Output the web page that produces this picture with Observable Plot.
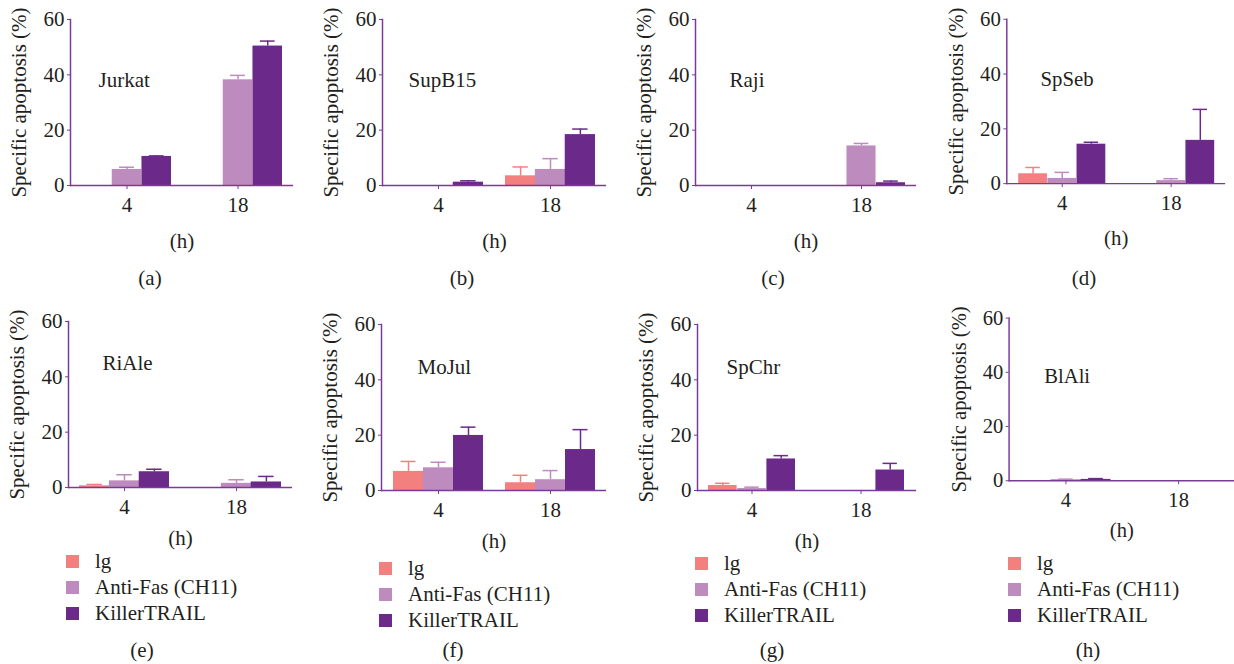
<!DOCTYPE html>
<html><head><meta charset="utf-8">
<script src="https://cdn.jsdelivr.net/npm/d3@7"></script>
<script src="https://cdn.jsdelivr.net/npm/@observablehq/plot@0.6"></script>
<style>
body{margin:0;background:#fff;width:1234px;height:664px;overflow:hidden;position:relative;font-family:'Liberation Serif',serif;color:#231f20;}
svg, svg text, .leg, .leg *{font-family:'Liberation Serif',serif !important;}
.panel{position:absolute;}
.cap{position:absolute;width:60px;margin-left:-30px;text-align:center;font-size:21px;line-height:20px;}
.leg{position:absolute;}
.lgd-swatch svg{margin-right:16px !important;}
.lgd-swatch{height:25px;}
</style></head><body><script>
// ---- data ----
const cells = ["Jurkat","SupB15","Raji","SpSeb","RiAle","MoJul","SpChr","BlAli"];
const panelLabels = ["(a)","(b)","(c)","(d)","(e)","(f)","(g)","(h)"];
const hours = ["4","18"];
const treatments = ["lg","Anti-Fas (CH11)","KillerTRAIL"];
const yTicks = [0,20,40,60];
// values ordered cell by cell, [4 h, 18 h]
const lgMean     = [0,0,    0,3.5,  0,0,    3.6,0,   0.6,0,   6.9,2.8,  1.8,0,   0,0];
const lgErr      = [0,0,    0,3.2,  0,0,    2.3,0,   0.5,0,   3.6,2.7,  0.8,0,   0,0];
const antiMean   = [5.8,38.2, 0,5.8, 0,14.3, 1.9,1.1, 2.4,1.5, 8.2,3.9, 0.7,0, 0.4,0];
const antiErr    = [0.8,1.6,  0,3.9, 0,0.9,  2.2,0.7, 2.2,1.3, 2.0,3.3, 0.5,0, 0.2,0];
const killerMean = [10.5,50.4, 1.2,18.4, 0,1.0, 14.4,15.8, 5.7,2.0, 19.9,14.8, 11.4,7.4, 0.5,0];
const killerErr  = [0.2,1.8,   0.5,2.0,  0,0.6, 0.7,11.3,  0.9,2.0, 3.0,7.2,   1.2,2.4,  0.3,0];

// ---- style / layout ----
const colors = ["#f47f7f","#be8bbe","#6b2a8a"];
const axisColor = "#7b3a98";
const textColor = "#231f20";
const font = "'Liberation Serif', serif";
const layout = [
  {left:0,   top:-1,  range:223, lx:28, ly:61, lo:62},
  {left:312, top:-1,  range:224, lx:26, ly:61, lo:62},
  {left:625, top:-1,  range:221, lx:34, ly:61, lo:62},
  {left:937, top:-1,  range:221, lx:34, ly:61, lo:62},
  {left:-2,  top:301, range:224, lx:34, ly:42, lo:57, leg:true, legTop:549},
  {left:311, top:304, range:225, lx:36, ly:43, lo:57, leg:true, legTop:556},
  {left:627, top:304, range:219, lx:29, ly:43, lo:57, leg:true, legTop:551},
  {left:940, top:298, range:230, lx:36, ly:59, lo:57, leg:true, legTop:551}
];
const capCenters = [150,462,773,1084,142,453,772,1088];
const ML = 70, MT = 20, FH = 166, MB = 72;

const meansBy = [lgMean, antiMean, killerMean];
const errsBy = [lgErr, antiErr, killerErr];

cells.forEach((cell, ci) => {
  const L = layout[ci];
  const W = 300;
  const MR = W - ML - L.range;
  const step = L.range / 2; // paddingInner .2, paddingOuter .1
  const bw = step * 0.8;
  const third = bw / 3;
  const capW = 15;
  const marks = [];
  treatments.forEach((t, ti) => {
    const rows = hours.map((h, hi) => ({hour: h, treatment: t,
      mean: meansBy[ti][ci*2+hi], err: errsBy[ti][ci*2+hi]}));
    marks.push(Plot.barY(rows, {x: "hour", y: "mean", fill: colors[ti],
      insetLeft: ti*third, insetRight: (2-ti)*third}));
    const eb = rows.filter(d => d.mean > 0 || d.err > 0);
    marks.push(Plot.ruleX(eb, {x: "hour", y1: "mean", y2: d => d.mean + d.err,
      dx: (ti-1)*third, stroke: colors[ti], strokeWidth: 1.5}));
    marks.push(Plot.tickY(eb, {x: "hour", y: d => d.mean + d.err, stroke: colors[ti], strokeWidth: 1.5,
      insetLeft: ti*third + (third-capW)/2, insetRight: (2-ti)*third + (third-capW)/2}));
  });
  const plot = Plot.plot({
    width: W, height: MT + FH + MB,
    marginLeft: ML, marginRight: MR, marginTop: MT, marginBottom: MB,
    style: {fontFamily: font, fontSize: "21px", color: textColor, background: "transparent", overflow: "visible"},
    x: {domain: hours, paddingInner: 0.2, paddingOuter: 0.1},
    y: {domain: [0, 60]},
    marks: [
      ...marks,
      Plot.ruleY([0], {stroke: axisColor, strokeWidth: 1.5}),
      Plot.frame({anchor: "left", stroke: axisColor, strokeWidth: 1.5}),
      Plot.axisY({ticks: yTicks, tickSize: 3, tickPadding: 3, stroke: axisColor, fill: textColor,
        label: "Specific apoptosis (%)", labelAnchor: "center", labelOffset: 59, labelArrow: false}),
      Plot.axisX({tickSize: 4, tickPadding: 8, stroke: axisColor, fill: textColor,
        label: "(h)", labelAnchor: "center", labelOffset: L.lo}),
      Plot.text([cell], {text: d => d, frameAnchor: "top-left", dx: L.lx, dy: L.ly,
        textAnchor: "start", lineAnchor: "middle", fill: textColor})
    ]
  });
  const div = document.createElement("div");
  div.className = "panel";
  div.style.left = L.left + "px";
  div.style.top = L.top + "px";
  div.appendChild(plot);
  document.body.appendChild(div);

  if (L.leg) {
    const lg = Plot.legend({color: {domain: treatments, range: colors}, legend: "swatches",
      columns: 1, swatchSize: 13, className: "lgd",
      style: {fontFamily: font, fontSize: "21px", color: textColor}});
    const ld = document.createElement("div");
    ld.className = "leg";
    ld.style.left = (L.left + ML - 2) + "px";
    ld.style.top = L.legTop + "px";
    ld.appendChild(lg);
    document.body.appendChild(ld);
  }
  const cap = document.createElement("div");
  cap.className = "cap";
  cap.textContent = panelLabels[ci];
  cap.style.left = capCenters[ci] + "px";
  cap.style.top = (ci < 4 ? 268 : 640) + "px";
  document.body.appendChild(cap);
});
</script></body></html>
